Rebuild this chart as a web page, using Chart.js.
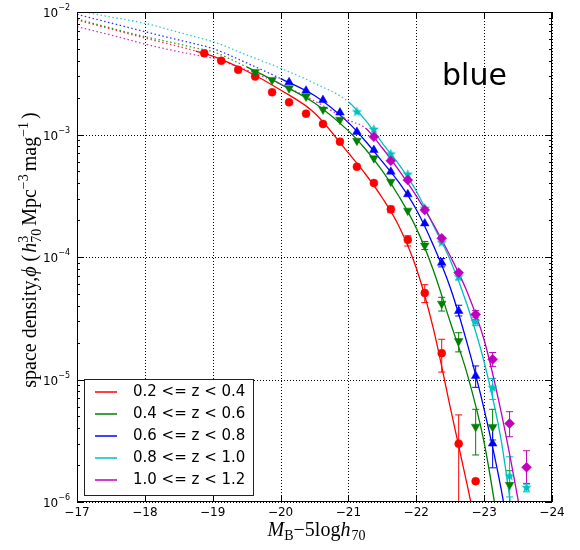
<!DOCTYPE html>
<html>
<head>
<meta charset="utf-8">
<script src="https://cdn.jsdelivr.net/npm/chart.js@4.4.1/dist/chart.umd.min.js"></script>
<style>
  html, body { margin: 0; padding: 0; background: #fff; }
</style>
</head>
<body>
<canvas id="chart" width="580" height="550"></canvas>
<script>
const seriesLabels = ["0.2 <= z < 0.4", "0.4 <= z < 0.6", "0.6 <= z < 0.8", "0.8 <= z < 1.0", "1.0 <= z < 1.2"];
const seriesColors = ["#ff0000", "#008000", "#0000ff", "#00bfbf", "#bf00bf"];

const xTickValues = [-17, -18, -19, -20, -21, -22, -23, -24];
const yTickValues = [1e-6, 1e-5, 1e-4, 1e-3, 1e-2];
const yTickPowers = ["−6", "−5", "−4", "−3", "−2"];

// measured points (magnitude bins, density, error bar ends where visible)
const redMag = [-18.875, -19.125, -19.375, -19.625, -19.875, -20.125, -20.375, -20.625, -20.875, -21.125, -21.375, -21.625, -21.875, -22.125, -22.375, -22.625, -22.875];
const redPhi = [4.6e-3, 4.0e-3, 3.37e-3, 2.97e-3, 2.21e-3, 1.83e-3, 1.48e-3, 1.22e-3, 8.74e-4, 5.45e-4, 4.02e-4, 2.45e-4, 1.38e-4, 5.08e-5, 1.64e-5, 2.99e-6, 1.48e-6];
const redLo = [null, null, null, null, null, null, null, null, null, null, null, 2.3e-4, 1.23e-4, 4.24e-5, 1.15e-5, 1e-8, null];
const redHi = [null, null, null, null, null, null, null, null, null, null, null, 2.6e-4, 1.49e-4, 5.94e-5, 2.13e-5, 5.14e-6, null];

const greenMag = [-19.625, -19.875, -20.125, -20.375, -20.625, -20.875, -21.125, -21.375, -21.625, -21.875, -22.125, -22.375, -22.625, -22.875, -23.125, -23.375];
const greenPhi = [3.23e-3, 2.79e-3, 2.38e-3, 2.04e-3, 1.60e-3, 1.32e-3, 8.9e-4, 6.4e-4, 4.12e-4, 2.39e-4, 1.24e-4, 4.16e-5, 2.06e-5, 4.12e-6, 4.1e-6, 1.38e-6];
const greenLo = [null, null, null, null, null, null, null, null, null, null, 1.15e-4, 3.62e-5, 1.68e-5, 2.42e-6, 3.21e-6, 1e-8];
const greenHi = [null, null, null, null, null, null, null, null, null, null, 1.34e-4, 4.69e-5, 2.41e-5, 5.71e-6, 5.71e-6, 1.8e-6];

const blueMag = [-20.125, -20.375, -20.625, -20.875, -21.125, -21.375, -21.625, -21.875, -22.125, -22.375, -22.625, -22.875, -23.125];
const bluePhi = [2.67e-3, 2.28e-3, 1.91e-3, 1.51e-3, 1.05e-3, 7.46e-4, 4.97e-4, 3.25e-4, 1.88e-4, 8.97e-5, 3.62e-5, 1.07e-5, 3.0e-6];
const blueLo = [null, null, null, null, null, null, null, null, null, 8.3e-5, 3.30e-5, 8.63e-6, 1.90e-6];
const blueHi = [null, null, null, null, null, null, null, null, null, 9.7e-5, 4.04e-5, 1.29e-5, 4.12e-6];

const cyanMag = [-21.125, -21.375, -21.625, -21.875, -22.125, -22.375, -22.625, -22.875, -23.125, -23.375, -23.625];
const cyanPhi = [1.53e-3, 1.10e-3, 6.93e-4, 4.73e-4, 2.5e-4, 1.31e-4, 6.9e-5, 2.97e-5, 8.57e-6, 1.63e-6, 1.31e-6];
const cyanLo = [null, null, null, null, null, null, 6.5e-5, 2.75e-5, 6.88e-6, 1.10e-6, 1.21e-6];
const cyanHi = [null, null, null, null, null, null, 7.4e-5, 3.2e-5, 1.02e-5, 2.34e-6, 1.40e-6];

const magentaMag = [-21.375, -21.625, -21.875, -22.125, -22.375, -22.625, -22.875, -23.125, -23.375, -23.625];
const magentaPhi = [9.6e-4, 6.11e-4, 4.25e-4, 2.42e-4, 1.42e-4, 7.45e-5, 3.4e-5, 1.46e-5, 4.38e-6, 1.92e-6];
const magentaLo = [null, null, null, null, null, null, 3.10e-5, 1.28e-5, 3.41e-6, 1.42e-6];
const magentaHi = [null, null, null, null, null, null, 3.65e-5, 1.66e-5, 5.46e-6, 2.62e-6];

// fitted curves (dotted brightward of fitStart)
const fitMag = [-17, -17.5, -18, -18.5, -18.75, -19, -19.5, -20, -20.5, -21, -21.25, -21.5, -21.75, -22, -22.25, -22.5, -22.75, -23, -23.25, -23.5, -23.75];
const redFit = [8.61e-3, 7.26e-3, 6.13e-3, 5.23e-3, 4.80e-3, 4.37e-3, 3.30e-3, 2.31e-3, 1.50e-3, 7.06e-4, 4.76e-4, 3.03e-4, 1.76e-4, 8.13e-5, 2.63e-5, 5.96e-6, 1.38e-6, 3.06e-7, null, null, null];
const greenFit = [8.77e-3, 7.40e-3, 6.29e-3, 5.48e-3, 5.08e-3, 4.74e-3, 3.56e-3, 2.58e-3, 1.81e-3, 1.07e-3, 7.61e-4, 5.04e-4, 3.09e-4, 1.72e-4, 7.83e-5, 2.95e-5, 1.11e-5, 3.06e-6, 4.6e-7, null, null];
const blueFit = [9.58e-3, 8.13e-3, 6.91e-3, 5.91e-3, 5.48e-3, 5.04e-3, 3.84e-3, 2.86e-3, 2.08e-3, 1.25e-3, 8.85e-4, 6.0e-4, 4.02e-4, 2.44e-4, 1.25e-4, 5.64e-5, 1.97e-5, 5.71e-6, 1.28e-6, 1.9e-7, null];
const cyanFit = [1.03e-2, 9.09e-3, 8.09e-3, 6.83e-3, 6.25e-3, 5.74e-3, 4.46e-3, 3.47e-3, 2.62e-3, 1.85e-3, 1.31e-3, 8.52e-4, 5.64e-4, 3.46e-4, 1.82e-4, 9.45e-5, 4.06e-5, 1.39e-5, 3.21e-6, 3.4e-7, null];
const magentaFit = [7.59e-3, 6.49e-3, 5.48e-3, 4.74e-3, 4.46e-3, 4.19e-3, 3.36e-3, 2.58e-3, 1.88e-3, 1.31e-3, 1.13e-3, 7.76e-4, 5.04e-4, 3.15e-4, 1.86e-4, 1.02e-4, 5.18e-5, 2.10e-5, 5.43e-6, 1.04e-6, 1.6e-7];
const fitStart = [-18.75, -19.5, -20, -21, -21.25];

const series = [
  { mag: redMag, phi: redPhi, lo: redLo, hi: redHi, fit: redFit, style: "circle", radius: 4, rotation: 0 },
  { mag: greenMag, phi: greenPhi, lo: greenLo, hi: greenHi, fit: greenFit, style: "triangle", radius: 5, rotation: 180 },
  { mag: blueMag, phi: bluePhi, lo: blueLo, hi: blueHi, fit: blueFit, style: "triangle", radius: 5, rotation: 0 },
  { mag: cyanMag, phi: cyanPhi, lo: cyanLo, hi: cyanHi, fit: cyanFit, style: "star", radius: 5.5, rotation: 0 },
  { mag: magentaMag, phi: magentaPhi, lo: magentaLo, hi: magentaHi, fit: magentaFit, style: "rectRot", radius: 5, rotation: 0 },
];

function withAlpha(hex, alpha) {
  const n = parseInt(hex.slice(1), 16);
  return `rgba(${(n >> 16) & 255}, ${(n >> 8) & 255}, ${n & 255}, ${alpha})`;
}

function starImage(color, r) {
  const c = document.createElement("canvas");
  const s = Math.ceil(r * 2) + 2;
  c.width = s;
  c.height = s;
  const g = c.getContext("2d");
  g.fillStyle = color;
  g.beginPath();
  for (let i = 0; i < 10; i++) {
    const rad = i % 2 ? r * 0.42 : r;
    const a = -Math.PI / 2 + (i * Math.PI) / 5;
    g.lineTo(s / 2 + rad * Math.cos(a), s / 2 + rad * Math.sin(a));
  }
  g.closePath();
  g.fill();
  return c;
}

const datasets = [];
series.forEach((s, i) => {
  const color = seriesColors[i];
  const start = fitStart[i];
  datasets.push({
    type: "scatter",
    label: seriesLabels[i],
    data: s.mag.map((m, k) => ({ x: m, y: s.phi[k] })),
    pointStyle: s.style === "star" ? starImage(color, s.radius) : s.style,
    pointRotation: s.rotation,
    pointRadius: s.radius,
    backgroundColor: color,
    borderColor: color,
    borderWidth: 0.5,
    showLine: false,
    clip: 0,
    order: 4 - i,
  });
  datasets.push({
    type: "line",
    label: seriesLabels[i] + " fit",
    data: fitMag.map((m, k) => ({ x: m, y: s.fit[k] })).filter((p) => p.y !== null),
    borderColor: color,
    borderWidth: 1.3,
    pointRadius: 0,
    fill: false,
    cubicInterpolationMode: "monotone",
    clip: 0,
    order: 10 + (4 - i),
    segment: {
      borderDash: (ctx) => (ctx.p1.parsed.x >= start ? [1.5, 2.5] : undefined),
      borderColor: (ctx) => (ctx.p1.parsed.x >= start ? withAlpha(color, 0.8) : color),
    },
  });
});

function drawRuns(ctx, runs, cx, y) {
  let total = 0;
  runs.forEach((r) => {
    ctx.font = r.font;
    r.w = ctx.measureText(r.text).width;
    if (r.sup) {
      ctx.font = r.supFont;
      r.w = Math.max(r.w, ctx.measureText(r.sup).width);
    }
    total += r.w + (r.gap || 0);
  });
  let x = cx - total / 2;
  runs.forEach((r) => {
    ctx.font = r.font;
    ctx.fillText(r.text, x, y + (r.dy || 0));
    if (r.sup) {
      ctx.font = r.supFont;
      ctx.fillText(r.sup, x, y + r.supDy);
    }
    x += r.w + (r.gap || 0);
  });
}

const serif = "20px 'Liberation Serif', serif";
const serifIt = "italic 20px 'Liberation Serif', serif";
const small = "14px 'Liberation Serif', serif";

const yTitleRuns = [
  { text: "space density,", font: serif },
  { text: "ϕ", font: serifIt },
  { text: " (", font: serif, gap: 2 },
  { text: "h", font: serifIt },
  { text: "70", font: small, dy: 5, sup: "3", supFont: small, supDy: -8, gap: 3 },
  { text: "Mpc", font: serif },
  { text: "−3", font: small, dy: -8, gap: 3 },
  { text: "mag", font: serif },
  { text: "−1", font: small, dy: -8, gap: 3 },
  { text: ")", font: serif },
];
const xTitleRuns = [
  { text: "M", font: serifIt },
  { text: "B", font: small, dy: 4 },
  { text: "−5log", font: serif },
  { text: "h", font: serifIt, gap: 1 },
  { text: "70", font: small, dy: 4 },
];

const decorations = {
  id: "decorations",
  beforeDatasetsDraw(chart) {
    const { ctx, chartArea: a, scales } = chart;
    const x = scales.x;
    const y = scales.y;
    ctx.save();
    ctx.strokeStyle = "#000";
    ctx.lineWidth = 1;
    ctx.setLineDash([1, 2]);
    ctx.beginPath();
    xTickValues.forEach((v) => {
      const px = Math.round(x.getPixelForValue(v)) + 0.5;
      ctx.moveTo(px, a.top);
      ctx.lineTo(px, a.bottom);
    });
    yTickValues.forEach((v) => {
      const py = Math.round(y.getPixelForValue(v)) + 0.5;
      ctx.moveTo(a.left, py);
      ctx.lineTo(a.right, py);
    });
    ctx.stroke();
    ctx.setLineDash([]);

    // error bars
    ctx.beginPath();
    ctx.rect(a.left, a.top, a.right - a.left, a.bottom - a.top);
    ctx.clip();
    series.forEach((s, i) => {
      ctx.strokeStyle = seriesColors[i];
      ctx.lineWidth = 1;
      s.mag.forEach((m, k) => {
        if (s.lo[k] === null) return;
        const px = x.getPixelForValue(m);
        const pLo = y.getPixelForValue(s.lo[k]);
        const pHi = y.getPixelForValue(s.hi[k]);
        ctx.beginPath();
        ctx.moveTo(px, pLo);
        ctx.lineTo(px, pHi);
        ctx.moveTo(px - 3.5, pHi);
        ctx.lineTo(px + 3.5, pHi);
        ctx.moveTo(px - 3.5, pLo);
        ctx.lineTo(px + 3.5, pLo);
        ctx.stroke();
      });
    });
    ctx.restore();
  },
  afterDraw(chart) {
    const { ctx, chartArea: a, scales } = chart;
    const x = scales.x;
    const y = scales.y;
    ctx.save();
    ctx.strokeStyle = "#000";
    ctx.fillStyle = "#000";
    ctx.lineWidth = 1;
    ctx.strokeRect(a.left + 0.5, a.top + 0.5, a.right - a.left - 1, a.bottom - a.top - 1);

    // ticks pointing inward
    ctx.beginPath();
    xTickValues.forEach((v) => {
      const px = Math.round(x.getPixelForValue(v)) + 0.5;
      ctx.moveTo(px, a.bottom);
      ctx.lineTo(px, a.bottom - 6);
      ctx.moveTo(px, a.top);
      ctx.lineTo(px, a.top + 6);
    });
    yTickValues.forEach((v, i) => {
      const py = Math.round(y.getPixelForValue(v)) + 0.5;
      ctx.moveTo(a.left, py);
      ctx.lineTo(a.left + 6, py);
      ctx.moveTo(a.right, py);
      ctx.lineTo(a.right - 6, py);
      if (i < yTickValues.length - 1) {
        for (let f = 2; f <= 9; f++) {
          const pm = Math.round(y.getPixelForValue(v * f)) + 0.5;
          ctx.moveTo(a.left, pm);
          ctx.lineTo(a.left + 3, pm);
          ctx.moveTo(a.right, pm);
          ctx.lineTo(a.right - 3, pm);
        }
      }
    });
    ctx.stroke();

    // tick labels
    ctx.font = "12px 'DejaVu Sans', sans-serif";
    ctx.textAlign = "center";
    ctx.textBaseline = "top";
    xTickValues.forEach((v) => {
      ctx.fillText(String(v).replace("-", "−"), x.getPixelForValue(v), a.bottom + 5);
    });
    ctx.textAlign = "left";
    ctx.textBaseline = "middle";
    yTickValues.forEach((v, i) => {
      const py = y.getPixelForValue(v);
      ctx.font = "8px 'DejaVu Sans', sans-serif";
      const supW = ctx.measureText(yTickPowers[i]).width;
      ctx.font = "12px 'DejaVu Sans', sans-serif";
      const baseW = ctx.measureText("10").width;
      const left = a.left - 7 - supW - baseW;
      ctx.fillText("10", left, py + 2);
      ctx.font = "8px 'DejaVu Sans', sans-serif";
      ctx.fillText(yTickPowers[i], left + baseW, py - 4);
    });

    // axis titles
    ctx.textBaseline = "alphabetic";
    drawRuns(ctx, xTitleRuns, (a.left + a.right) / 2 + 2, 536);
    ctx.save();
    ctx.translate(36, 250);
    ctx.rotate(-Math.PI / 2);
    drawRuns(ctx, yTitleRuns, 0, 0);
    ctx.restore();

    // panel label
    ctx.font = "30px 'DejaVu Sans', sans-serif";
    ctx.fillText("blue", 442, 85);

    // legend
    ctx.fillStyle = "#fff";
    ctx.fillRect(84.5, 379.5, 169, 116);
    ctx.strokeStyle = "#222";
    ctx.strokeRect(84.5, 379.5, 169, 116);
    ctx.font = "15px 'DejaVu Sans', sans-serif";
    ctx.textBaseline = "middle";
    seriesLabels.forEach((label, i) => {
      const ry = 392 + i * 22;
      ctx.strokeStyle = seriesColors[i];
      ctx.lineWidth = 1.5;
      ctx.beginPath();
      ctx.moveTo(95, ry);
      ctx.lineTo(117, ry);
      ctx.stroke();
      ctx.fillStyle = "#000";
      ctx.fillText(label, 133, ry);
    });
    ctx.restore();
  },
};

new Chart(document.getElementById("chart"), {
  type: "line",
  data: { datasets },
  options: {
    responsive: false,
    animation: false,
    layout: { padding: { left: 77, right: 28, top: 12, bottom: 48 } },
    plugins: { legend: { display: false }, tooltip: { enabled: false } },
    scales: {
      x: { type: "linear", min: -24, max: -17, reverse: true, display: false },
      y: { type: "logarithmic", min: 1e-6, max: 1e-2, display: false },
    },
  },
  plugins: [decorations],
});
</script>
</body>
</html>
